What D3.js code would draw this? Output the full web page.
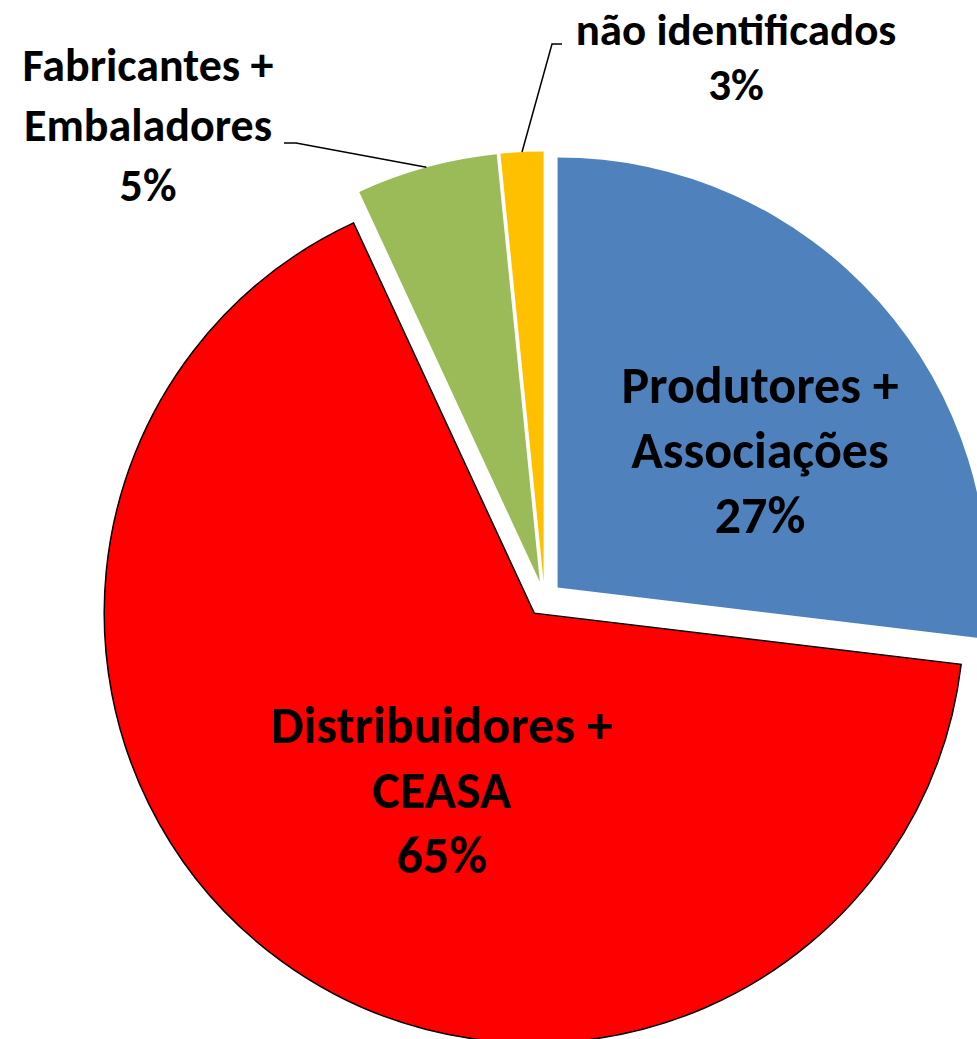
<!DOCTYPE html>
<html lang="pt">
<head>
    <meta charset="UTF-8">
    <title>Distribuição por origem</title>
    <style>
        body { margin: 0; background: #fff; }
        .lbl {
            font-family: Carlito, Lato, "Open Sans", sans-serif;
            font-weight: bold;
            fill: #000;
        }
    </style>
    <script src="https://d3js.org/d3.v7.min.js"></script>
</head>
<body>
    <script>
        // data
        let categories = ["Produtores + Associações", "Distribuidores + CEASA", "Fabricantes + Embaladores", "não identificados"];
        let labelLines = [["Produtores +", "Associações"], ["Distribuidores +", "CEASA"], ["Fabricantes +", "Embaladores"], ["não identificados"]];
        let shares = [26.9, 66.2, 5.3, 1.6];
        let pctLabels = ["27%", "65%", "5%", "3%"];
        let colors = ["#4f81bd", "#ff0000", "#9bbb59", "#ffc000"];

        let width = 977, height = 1039;
        let cx = 544.5, cy = 599, radius = 430, explode = 17.5;

        let svg = d3.select("body")
            .append("svg")
            .attr("width", width)
            .attr("height", height);

        let pie = d3.pie().sort(null).value(d => d);
        let arcs = pie(shares);
        let arc = d3.arc().innerRadius(0).outerRadius(radius);
        let rim = d3.arc().innerRadius(radius).outerRadius(radius);

        function offset(d) {
            let a = (d.startAngle + d.endAngle) / 2;
            return [explode * Math.sin(a), -explode * Math.cos(a)];
        }

        let g = svg.append("g")
            .attr("transform", "translate(" + cx + "," + cy + ")");

        g.selectAll(".slice")
            .data(arcs)
            .enter()
            .append("path")
            .attr("class", "slice")
            .attr("transform", d => "translate(" + offset(d) + ")")
            .attr("d", arc)
            .attr("fill", (d, i) => colors[i])
            .attr("stroke", (d, i) => i === 1 ? "#000" : "none")
            .attr("stroke-width", 1.5)
            .attr("stroke-linejoin", "miter");

        // label placement (centre x, first baseline, line step, font size)
        let layout = [
            {x: 760, y: 403, step: 65, size: 52, inside: true},
            {x: 442, y: 743, step: 65, size: 52, inside: true},
            {x: 148, y: 81, step: 60, size: 46, inside: false, hook: [284, 143, 296, 143]},
            {x: 736, y: 45, step: 55, size: 45, inside: false, hook: [562, 44, 552, 44]}
        ];

        arcs.forEach(function(d, i) {
            let L = layout[i];
            let t = svg.append("text")
                .attr("class", "lbl")
                .attr("text-anchor", "middle")
                .style("font-size", L.size + "px");
            labelLines[i].concat([pctLabels[i]]).forEach(function(s, k) {
                t.append("tspan")
                    .attr("x", L.x)
                    .attr("y", L.y + k * L.step)
                    .text(s);
            });

            if (!L.inside) {
                let o = offset(d);
                let p = rim.centroid(d);
                let pts = [[L.hook[0], L.hook[1]], [L.hook[2], L.hook[3]], [cx + o[0] + p[0], cy + o[1] + p[1]]];
                svg.append("path")
                    .attr("d", d3.line()(pts))
                    .attr("fill", "none")
                    .attr("stroke", "#000")
                    .attr("stroke-width", 1.5);
            }
        });
    </script>
</body>
</html>
